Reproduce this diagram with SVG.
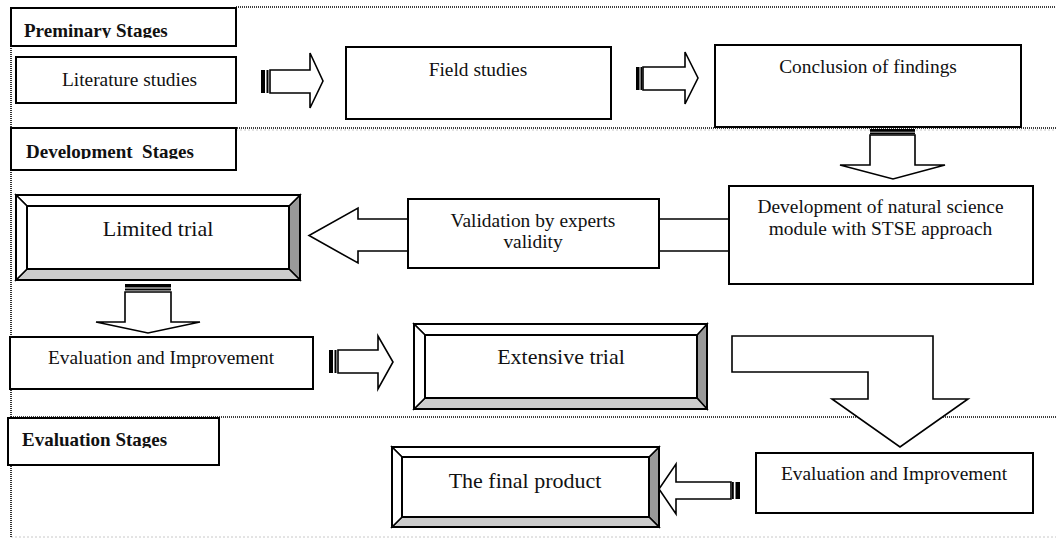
<svg xmlns="http://www.w3.org/2000/svg" width="1056" height="538" viewBox="0 0 1056 538">
<style>
.dot{stroke:#000;stroke-width:1.6;stroke-dasharray:1 1;fill:none}
.dotg{stroke:#c8c8c8;stroke-width:1;stroke-dasharray:2 2;fill:none}
.box{fill:#fff;stroke:#000;stroke-width:2}
.arr{fill:#fff;stroke:#000;stroke-width:1.6;stroke-linejoin:miter}
.stripe{fill:#000}
.bev{stroke:#000;stroke-width:1.5}
.t{font-family:"Liberation Serif","Times New Roman",serif;font-size:19.4px;text-anchor:middle;fill:#111}
.tl{font-size:22px}
.h{font-family:"Liberation Serif","Times New Roman",serif;font-size:19px;font-weight:bold;fill:#111}
</style>
<defs>
<clipPath id="c1"><rect x="11" y="8" width="225" height="30"/></clipPath>
<clipPath id="c2"><rect x="11" y="128" width="225" height="31"/></clipPath>
<clipPath id="c3"><rect x="8" y="418" width="211" height="30"/></clipPath>
</defs>

<g id="stage-lines">
<line class="dotg" x1="236" y1="130" x2="1056" y2="130"/>
<line class="dotg" x1="11" y1="537" x2="1056" y2="537"/>
<line class="dot" x1="236" y1="7" x2="1056" y2="7"/>
<line class="dot" x1="11" y1="128" x2="1056" y2="128"/>
<line class="dot" x1="11" y1="417" x2="1056" y2="417"/>
<line class="dot" x1="11" y1="46" x2="11" y2="537"/>
</g>

<g id="stage-preliminary">
<rect class="box" x="11" y="8" width="225" height="38"/>
<text class="h" x="24" y="36.5" clip-path="url(#c1)">Preminary Stages</text>
</g>
<g id="stage-development">
<rect class="box" x="11" y="128" width="225" height="42"/>
<text class="h" x="26" y="158" clip-path="url(#c2)" xml:space="preserve">Development  Stages</text>
</g>
<g id="stage-evaluation">
<rect class="box" x="8" y="418" width="211" height="47"/>
<text class="h" x="22" y="446" clip-path="url(#c3)">Evaluation Stages</text>
</g>

<g id="connectors">
<!-- Literature -> Field -->
<g>
<rect class="stripe" x="261" y="70" width="4" height="23"/>
<rect class="stripe" x="266.5" y="70" width="2" height="23"/>
<polygon class="arr" points="270,70 310,70 310,53 323,81 310,108 310,93 270,93"/>
</g>
<!-- Field -> Conclusion -->
<g>
<rect class="stripe" x="636" y="67" width="3.5" height="23"/>
<rect class="stripe" x="640.5" y="67" width="1.8" height="23"/>
<polygon class="arr" points="643,67 685,67 685,52 698,78 685,104 685,90 643,90"/>
</g>
<!-- Conclusion -> Development -->
<g>
<rect class="stripe" x="870" y="129" width="45" height="2.8"/>
<rect class="stripe" x="870" y="132.5" width="45" height="1.8"/>
<polygon class="arr" points="870,135 870,165 840,165 893,179 945,165 915,165 915,135"/>
</g>
<!-- Development -> Validation -> Limited trial -->
<polygon class="arr" points="729,219 358,219 358,208 309,235.5 358,263 358,251 729,251"/>
<!-- Limited trial -> Evaluation -->
<g>
<rect class="stripe" x="125" y="284" width="46" height="3.5"/>
<rect class="stripe" x="125" y="288.5" width="46" height="2"/>
<polygon class="arr" points="125,292 125,322 96,322 148,333 200,322 171,322 171,292"/>
</g>
<!-- Evaluation -> Extensive trial -->
<g>
<rect class="stripe" x="329" y="350" width="4" height="23"/>
<rect class="stripe" x="334.5" y="350" width="2" height="23"/>
<polygon class="arr" points="338,350 378,350 378,336 393,362 378,389 378,373 338,373"/>
</g>
<!-- Extensive trial -> Evaluation (bent) -->
<polygon class="arr" points="732,336 933,336 933,399 968,399 900,447 832,399 868,399 868,372 732,372"/>
<!-- Evaluation -> Final product -->
<g>
<polygon class="arr" points="731,482 676,482 676,464 659,489 676,514 676,499 731,499"/>
<rect class="stripe" x="732" y="482" width="1.8" height="17"/>
<rect class="stripe" x="735.5" y="482" width="4.5" height="17"/>
</g>
</g>

<g id="node-literature">
<rect class="box" x="16" y="57" width="220" height="46"/>
<text class="t" x="129.5" y="86">Literature studies</text>
</g>
<g id="node-field">
<rect class="box" x="346" y="47" width="265" height="72"/>
<text class="t" x="478" y="75.5">Field studies</text>
</g>
<g id="node-conclusion">
<rect class="box" x="715" y="45" width="306" height="82"/>
<text class="t" x="868" y="73">Conclusion of findings</text>
</g>
<g id="node-development">
<rect class="box" x="729" y="186" width="304" height="98"/>
<text class="t" x="880.5" y="213">Development of natural science</text>
<text class="t" x="880.5" y="234.5">module with STSE approach</text>
</g>
<g id="node-validation">
<rect class="box" x="408" y="199" width="251" height="69"/>
<text class="t" x="533" y="226.5">Validation by experts</text>
<text class="t" x="533" y="248">validity</text>
</g>
<g id="node-limited-trial">
<rect x="16" y="195" width="284" height="85" fill="#fff"/>
<polygon class="bev" fill="#999" points="289,206 300,195 300,280 289,269"/>
<polygon class="bev" fill="#ccc" points="27,269 289,269 300,280 16,280"/>
<polygon class="bev" fill="#fff" points="16,195 300,195 289,206 27,206"/>
<polygon class="bev" fill="#fff" points="16,195 27,206 27,269 16,280"/>
<rect x="16" y="195" width="284" height="85" fill="none" stroke="#000" stroke-width="2"/>
<rect x="27" y="206" width="262" height="63" fill="#fff" stroke="#000" stroke-width="2"/>
<text class="t tl" x="158" y="236">Limited trial</text>
</g>
<g id="node-evaluation-1">
<rect class="box" x="10" y="337" width="303" height="52"/>
<text class="t" x="161" y="364">Evaluation and Improvement</text>
</g>
<g id="node-extensive-trial">
<rect x="414" y="324" width="293" height="85" fill="#fff"/>
<polygon class="bev" fill="#999" points="697,335 707,324 707,409 697,398"/>
<polygon class="bev" fill="#ccc" points="425,398 697,398 707,409 414,409"/>
<polygon class="bev" fill="#fff" points="414,324 707,324 697,335 425,335"/>
<polygon class="bev" fill="#fff" points="414,324 425,335 425,398 414,409"/>
<rect x="414" y="324" width="293" height="85" fill="none" stroke="#000" stroke-width="2"/>
<rect x="425" y="335" width="272" height="63" fill="#fff" stroke="#000" stroke-width="2"/>
<text class="t tl" x="561" y="364">Extensive trial</text>
</g>
<g id="node-evaluation-2">
<rect class="box" x="756" y="453" width="277" height="60"/>
<text class="t" x="894" y="480">Evaluation and Improvement</text>
</g>
<g id="node-final-product">
<rect x="392" y="447" width="267" height="80" fill="#fff"/>
<polygon class="bev" fill="#999" points="649,457 659,447 659,527 649,517"/>
<polygon class="bev" fill="#ccc" points="402,517 649,517 659,527 392,527"/>
<polygon class="bev" fill="#fff" points="392,447 659,447 649,457 402,457"/>
<polygon class="bev" fill="#fff" points="392,447 402,457 402,517 392,527"/>
<rect x="392" y="447" width="267" height="80" fill="none" stroke="#000" stroke-width="2"/>
<rect x="402" y="457" width="247" height="60" fill="#fff" stroke="#000" stroke-width="2"/>
<text class="t tl" x="525" y="488">The final product</text>
</g>
</svg>
